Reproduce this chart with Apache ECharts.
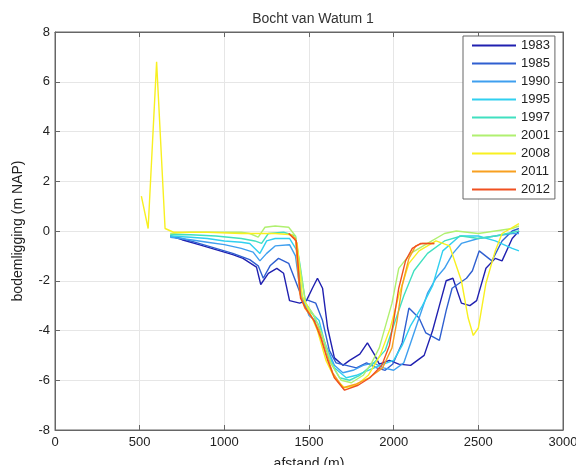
<!DOCTYPE html>
<html>
<head>
<meta charset="utf-8">
<script src="https://cdn.jsdelivr.net/npm/echarts@6/dist/echarts.min.js"></script>
<style>html,body{margin:0;padding:0;background:#fff}#c{width:576px;height:465px}</style>
</head>
<body>
<div id="c"></div>
<script>
var years = ['1983','1985','1990','1995','1997','2001','2008','2011','2012'];
var colors = ['#2020b0','#2f5fd0','#3f9fef','#30d0f0','#40e0c0','#b0f070','#f8f020','#f8a020','#f05020'];
var xTicks = [0,500,1000,1500,2000,2500,3000];
var yTicks = [-8,-6,-4,-2,0,2,4,6,8];

var s1983 = [[680,-0.2],[750,-0.35],[850,-0.55],[950,-0.75],[1050,-0.95],[1110,-1.1],[1190,-1.45],[1215,-2.15],[1260,-1.7],[1310,-1.5],[1350,-1.7],[1385,-2.8],[1445,-2.9],[1485,-2.8],[1520,-2.3],[1550,-1.9],[1580,-2.3],[1610,-3.9],[1650,-5.1],[1700,-5.4],[1740,-5.2],[1800,-4.95],[1845,-4.5],[1885,-4.95],[1915,-5.35],[1975,-5.2],[2030,-5.35],[2100,-5.4],[2180,-5.0],[2230,-4.0],[2270,-3.0],[2310,-2.0],[2350,-1.9],[2400,-2.9],[2450,-3.0],[2490,-2.8],[2545,-1.5],[2600,-1.1],[2640,-1.2],[2700,-0.3],[2740,0.0]];
var s1985 = [[680,-0.2],[750,-0.3],[850,-0.5],[950,-0.7],[1050,-0.9],[1150,-1.15],[1200,-1.4],[1230,-1.9],[1270,-1.4],[1320,-1.1],[1380,-1.3],[1420,-2.0],[1460,-2.7],[1500,-2.8],[1540,-2.9],[1580,-3.6],[1620,-4.8],[1660,-5.3],[1720,-5.4],[1780,-5.5],[1840,-5.3],[1900,-5.5],[1950,-5.6],[1995,-5.35],[2050,-4.5],[2090,-3.1],[2150,-3.5],[2190,-4.1],[2270,-4.4],[2310,-3.2],[2345,-2.3],[2430,-1.9],[2465,-1.6],[2505,-0.8],[2580,-1.2],[2640,-0.4],[2700,0.0],[2740,0.1]];
var s1990 = [[680,-0.25],[800,-0.35],[900,-0.45],[1000,-0.55],[1100,-0.7],[1170,-0.85],[1210,-1.2],[1250,-0.9],[1300,-0.6],[1385,-0.55],[1420,-1.0],[1450,-2.5],[1500,-3.4],[1550,-3.7],[1600,-4.6],[1650,-5.4],[1700,-5.7],[1760,-5.6],[1820,-5.4],[1880,-5.3],[1940,-5.5],[2000,-5.6],[2060,-5.3],[2100,-4.5],[2150,-3.5],[2200,-2.5],[2250,-1.9],[2300,-1.5],[2350,-0.9],[2400,-0.5],[2500,-0.3],[2600,-0.2],[2700,-0.1],[2740,-0.1]];
var s1995 = [[680,-0.2],[800,-0.25],[900,-0.3],[1000,-0.4],[1100,-0.45],[1150,-0.5],[1210,-0.9],[1250,-0.4],[1300,-0.3],[1385,-0.3],[1430,-0.8],[1460,-2.8],[1500,-3.2],[1560,-3.6],[1600,-4.7],[1650,-5.5],[1720,-5.9],[1780,-5.8],[1850,-5.6],[1920,-5.4],[2000,-5.2],[2050,-4.6],[2100,-3.8],[2170,-3.0],[2230,-2.2],[2290,-0.8],[2390,-0.2],[2500,-0.2],[2600,-0.4],[2700,-0.7],[2740,-0.8]];
var s1997 = [[680,-0.15],[800,-0.15],[950,-0.2],[1100,-0.3],[1180,-0.4],[1220,-0.5],[1260,-0.1],[1350,-0.05],[1420,-0.2],[1450,-1.5],[1480,-2.9],[1520,-3.3],[1570,-4.0],[1620,-5.2],[1680,-5.9],[1740,-6.0],[1800,-5.8],[1870,-5.4],[1950,-4.8],[2000,-3.8],[2060,-2.6],[2120,-1.6],[2200,-0.9],[2300,-0.4],[2400,-0.2],[2500,-0.3],[2600,-0.2],[2740,0.0]];
var s2001 = [[680,-0.1],[800,-0.05],[950,-0.05],[1100,-0.05],[1150,-0.1],[1200,-0.25],[1240,0.15],[1300,0.2],[1380,0.15],[1420,-0.2],[1450,-1.6],[1480,-2.9],[1530,-3.4],[1580,-4.2],[1630,-5.3],[1690,-6.0],[1750,-6.1],[1820,-5.8],[1870,-5.3],[1915,-4.7],[1990,-2.9],[2030,-1.5],[2100,-0.9],[2200,-0.5],[2300,-0.1],[2370,0.0],[2500,-0.1],[2600,0.0],[2700,0.1],[2740,0.2]];
var s2008 = [[510,1.4],[550,0.1],[600,6.8],[650,0.1],[700,-0.05],[900,-0.05],[1100,-0.1],[1300,-0.1],[1400,-0.15],[1430,-0.5],[1460,-2.6],[1500,-3.2],[1550,-4.0],[1600,-5.2],[1650,-5.9],[1710,-6.3],[1780,-6.2],[1850,-5.8],[1920,-5.0],[1980,-3.9],[2030,-2.6],[2090,-1.3],[2150,-0.8],[2250,-0.4],[2330,-0.6],[2400,-2.0],[2440,-3.5],[2470,-4.2],[2500,-3.9],[2545,-2.1],[2600,-0.8],[2640,-0.1],[2740,0.3]];
var s2011 = [[1380,-0.1],[1420,-0.3],[1445,-2.5],[1475,-3.1],[1520,-3.5],[1560,-4.0],[1600,-4.9],[1640,-5.7],[1700,-6.3],[1780,-6.15],[1855,-5.9],[1935,-5.5],[1990,-4.7],[2020,-3.6],[2050,-2.2],[2090,-1.1],[2130,-0.6],[2170,-0.5],[2240,-0.5]];
var s2012 = [[1380,-0.1],[1425,-0.4],[1450,-2.7],[1480,-3.1],[1530,-3.6],[1570,-4.3],[1610,-5.2],[1650,-5.9],[1710,-6.4],[1790,-6.2],[1860,-5.9],[1930,-5.4],[1975,-4.6],[2000,-3.6],[2030,-2.3],[2070,-1.2],[2110,-0.7],[2160,-0.5],[2240,-0.5]];
var seriesData = [s1983,s1985,s1990,s1995,s1997,s2001,s2008,s2011,s2012];

var font = 'Liberation Sans, Arial, sans-serif';
var chart = echarts.init(document.getElementById('c'));
var series = years.map(function(y,i){
  return {name:y,type:'line',data:seriesData[i],symbol:'none',showSymbol:false,
    lineStyle:{color:colors[i],width:1.4},itemStyle:{color:colors[i]},
    xAxisIndex:0,yAxisIndex:0,animation:false,z:2+i};
});
var axLine = {show:true,onZero:false,lineStyle:{color:'#666'}};
var axTick = {show:true,inside:true,length:5,lineStyle:{color:'#666'}};
chart.setOption({
  animation:false,
  backgroundColor:'#fff',
  title:{text:'Bocht van Watum 1',left:308,textAlign:'center',top:7,
    textStyle:{fontFamily:font,fontSize:14,fontWeight:'normal',color:'#333'}},
  grid:{left:55,right:13,top:32,bottom:35,outerBoundsMode:'none',containLabel:false,
    show:true,borderColor:'#666',borderWidth:1,backgroundColor:'#fff'},
  legend:{orient:'vertical',left:463,top:36,data:years,icon:'rect',
    itemWidth:44,itemHeight:2,itemGap:5,padding:[3,5,3,9],
    borderColor:'#666',borderWidth:1,backgroundColor:'#fff',
    textStyle:{fontFamily:font,fontSize:13,color:'#222',lineHeight:13,height:13}},
  xAxis:[{type:'value',min:0,max:3000,interval:500,
    name:'afstand (m)',nameLocation:'middle',nameGap:27,
    nameTextStyle:{fontFamily:font,fontSize:14,color:'#222'},
    axisLine:axLine,axisTick:axTick,
    axisLabel:{fontFamily:font,fontSize:13,color:'#222',margin:6,formatter:function(v){return String(v);}},
    splitLine:{show:true,lineStyle:{color:'#e6e6e6',width:1}}},
    {type:'value',position:'top',min:0,max:3000,interval:500,
    axisLine:axLine,axisTick:axTick,
    axisLabel:{show:false},splitLine:{show:false}}],
  yAxis:[{type:'value',min:-8,max:8,interval:2,
    name:'bodemligging (m NAP)',nameLocation:'middle',nameGap:30,
    nameTextStyle:{fontFamily:font,fontSize:14,color:'#222'},
    axisLine:axLine,axisTick:axTick,
    axisLabel:{fontFamily:font,fontSize:13,color:'#222',margin:5,formatter:function(v){return String(v);}},
    splitLine:{show:true,lineStyle:{color:'#e6e6e6',width:1}}},
    {type:'value',position:'right',min:-8,max:8,interval:2,
    axisLine:axLine,axisTick:axTick,
    axisLabel:{show:false},splitLine:{show:false}}],
  series:series
});
</script>
</body>
</html>
